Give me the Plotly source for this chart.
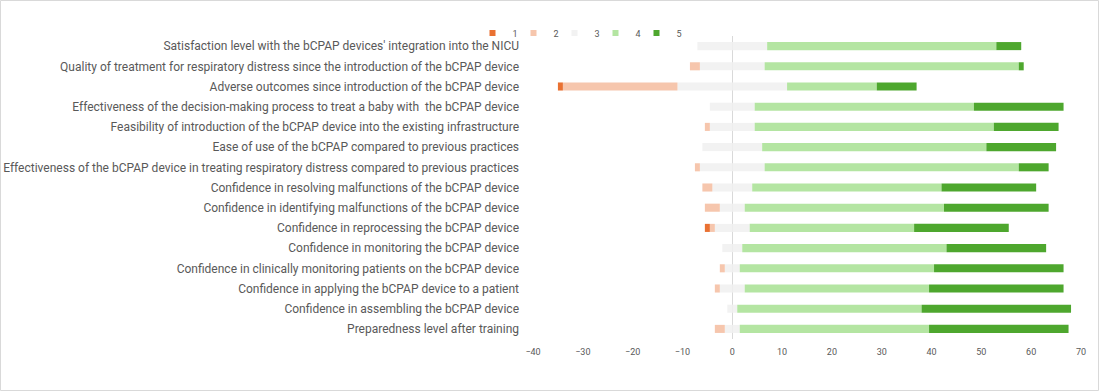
import plotly.graph_objects as go

questions = [
    "Satisfaction level with the bCPAP devices' integration into the NICU",
    "Quality of treatment for respiratory distress since the introduction of the bCPAP device",
    "Adverse outcomes since introduction of the bCPAP device",
    "Effectiveness of the decision-making process to treat a baby with  the bCPAP device",
    "Feasibility of introduction of the bCPAP device into the existing infrastructure",
    "Ease of use of the bCPAP compared to previous practices",
    "Effectiveness of the bCPAP device in treating respiratory distress compared to previous practices",
    "Confidence in resolving malfunctions of the bCPAP device",
    "Confidence in identifying malfunctions of the bCPAP device",
    "Confidence in reprocessing the bCPAP device",
    "Confidence in monitoring the bCPAP device",
    "Confidence in clinically monitoring patients on the bCPAP device",
    "Confidence in applying the bCPAP device to a patient",
    "Confidence in assembling the bCPAP device",
    "Preparedness level after training",
]

level1 = [0, 0, 1, 0, 0, 0, 0, 0, 0, 1, 0, 0, 0, 0, 0]
level2 = [0, 2, 23, 0, 1, 0, 1, 2, 3, 1, 0, 1, 1, 0, 2]
level3 = [14, 13, 22, 9, 9, 12, 13, 8, 5, 7, 4, 3, 5, 2, 3]
level4 = [46, 51, 18, 44, 48, 45, 51, 38, 40, 33, 41, 39, 37, 37, 38]
level5 = [5, 1, 8, 18, 13, 14, 6, 19, 21, 19, 20, 26, 27, 30, 28]

level_names = ["1", "2", "3", "4", "5"]
colors = {"1": "#E97132", "2": "#F6C6AD", "3": "#F2F2F2", "4": "#B4E5A2", "5": "#4EA72E"}

x_ticks = [-40, -30, -20, -10, 0, 10, 20, 30, 40, 50, 60, 70]

W, H = 1099, 391
ML, MR, MT, MB = 533, 18, 36, 52
PW, PH = W - ML - MR, H - MT - MB

fig = go.Figure()

def bar(vals, name, sign):
    fig.add_trace(go.Bar(
        y=questions, x=[sign * v for v in vals], orientation="h",
        name=name, marker=dict(color=colors[name], line=dict(width=0)),
        showlegend=False, legendgroup=name,
        hovertemplate="%{y}<br>" + name + ": %{customdata}<extra></extra>",
        customdata=vals,
    ))

half3 = [v / 2 for v in level3]
# negative side (stacked outward from zero)
bar(half3, "3", -1)
bar(level2, "2", -1)
bar(level1, "1", -1)
# positive side
bar(half3, "3", 1)
bar(level4, "4", 1)
bar(level5, "5", 1)

# legend entries
for i, n in enumerate(level_names):
    fig.add_trace(go.Scatter(
        x=[None], y=[None], mode="markers", name=n, legendgroup=n,
        marker=dict(symbol="square", size=6, color=colors[n]),
        legendrank=i + 1, showlegend=True,
    ))

fig.update_layout(
    width=W, height=H,
    margin=dict(l=ML, r=MR, t=MT, b=MB, autoexpand=False),
    barmode="relative", bargap=0.6,
    plot_bgcolor="white", paper_bgcolor="white",
    font=dict(family="Roboto, Liberation Sans, sans-serif", color="#595959"),
    showlegend=True,
    legend=dict(
        orientation="h", xanchor="center", yanchor="middle",
        x=(590 - ML) / PW, y=1 + (MT - 33) / PH,
        font=dict(size=9, color="#595959"),
        itemwidth=30, indentation=-15, traceorder="normal",
        entrywidth=11,
        bgcolor="rgba(0,0,0,0)",
    ),
    xaxis=dict(
        range=[-40, 70], tickvals=x_ticks, showgrid=False,
        zeroline=True, zerolinecolor="#D9D9D9", zerolinewidth=1,
        showline=False, ticks="", tickfont=dict(size=9, color="#595959"),
        ticklabelstandoff=6, fixedrange=True,
    ),
    yaxis=dict(
        autorange="reversed", showgrid=False, showline=False, ticks="",
        tickfont=dict(size=12, color="#595959"), ticklabelstandoff=13,
        fixedrange=True,
    ),
    shapes=[dict(
        type="rect", xref="paper", yref="paper",
        x0=(0.5 - ML) / PW, x1=1 + (MR - 0.5) / PW,
        y0=-(MB - 0.5) / PH, y1=1 + (MT - 0.5) / PH,
        line=dict(color="#D9D9D9", width=1), fillcolor="rgba(0,0,0,0)",
        layer="below",
    )],
)

fig.write_html(
    "out.html",
    config={"displayModeBar": False},
    post_script="document.body.style.margin='0';document.body.style.overflow='hidden';",
)
